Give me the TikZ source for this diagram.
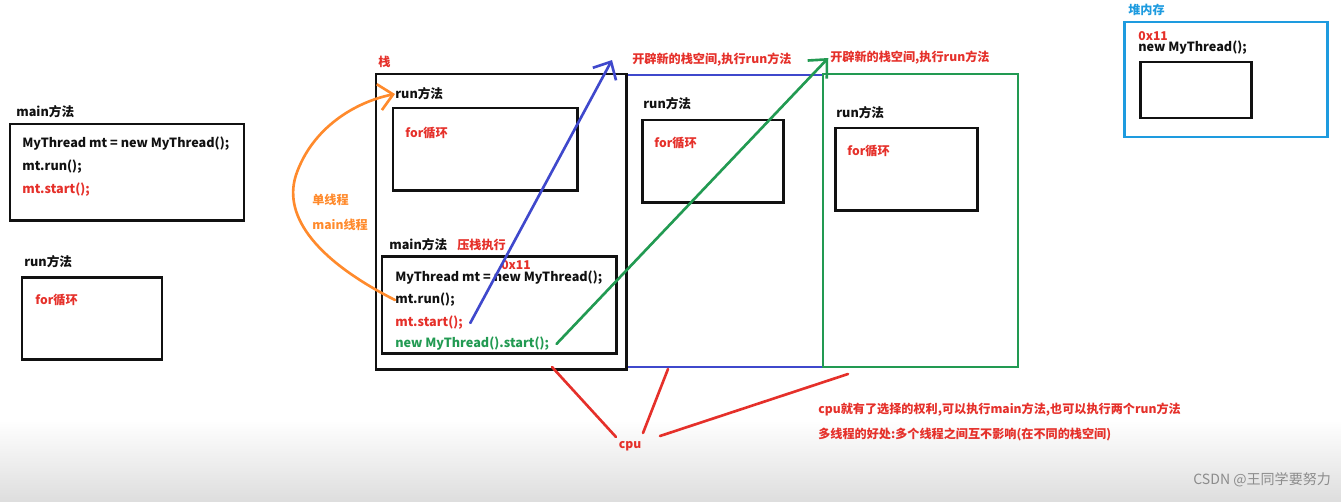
\documentclass[tikz,border=0pt]{standalone}
\usepackage{fontspec}
\setmainfont{Noto Sans CJK SC}
\usetikzlibrary{arrows.meta,fit}
\definecolor{jred}{HTML}{E5302A}
\definecolor{jblue}{HTML}{3F48CC}
\definecolor{jgreen}{HTML}{229A52}
\definecolor{jorange}{HTML}{FF8A2C}
\definecolor{jsky}{HTML}{1E9BDF}
\definecolor{jink}{HTML}{111111}
\begin{document}
\begin{tikzpicture}[
  x=0.02cm, y=-0.02cm,
  blk/.style   = {draw=jink, line width=1.7pt, inner sep=0pt},
  stk/.style   = {line width=1.5pt, inner sep=0pt},
  code/.style  = {font=\bfseries\fontsize{7.2}{8}\selectfont, text=jink,
                  anchor=west, inner sep=0pt},
  note/.style  = {font=\bfseries\fontsize{6.9}{8}\selectfont, text=jred,
                  anchor=west, inner sep=0pt},
  hand/.style  = {line width=1.5pt, line cap=round},
  barb/.style  = {-{Straight Barb[length=8pt,width=15pt]}},
]
\useasboundingbox (0,0) rectangle (1341,501);
\fill[top color=white, bottom color=black!13] (0,420) rectangle (1341,501);
\node[code] (lmainT) at (16,112) {main方法};
\node[blk, fit={(10,124) (244,220)}] (lmain) {};
\node[code] (l1) at (22,144) {MyThread mt = new MyThread();};
\node[code] (l2) at (22,167) {mt.run();};
\node[code, text=jred] (l3) at (22,190) {mt.start();};
\node[code] (lrunT) at (24,262) {run方法};
\node[blk, fit={(22,277) (162,359)}] (lrun) {};
\node[note] (lfor) at (35,300) {for循环};
\node[note] (zhan) at (378,62) {栈};
\node[stk, draw=jblue, fit={(626,75) (823,367)}] (bstk) {};
\node[stk, draw=jgreen, fit={(823,74) (1018,367)}] (gstk) {};
\node[blk, fit={(376,74) (626,369)}] (stack) {};
\node[code] (srunT) at (395,94) {run方法};
\node[blk, fit={(393,108) (577,190)}] (srun) {};
\node[note] (sfor) at (405,133) {for循环};
\node[code] (smainT) at (389,245) {main方法};
\node[note] (push) at (457,245) {压栈执行};
\node[blk, fit={(382,256) (616,353)}] (smain) {};
\node[code] (c1) at (395,278) {MyThread mt = new MyThread();};
\node[code] (c2) at (395,300) {mt.run();};
\node[code, text=jred] (c3) at (395,323) {mt.start();};
\node[code, text=jgreen] (c4) at (395,344) {new MyThread().start();};
\node[note] (addr) at (501,265) {0x11};
\node[code] (brunT) at (643,104) {run方法};
\node[blk, fit={(642,120) (783,202)}] (brun) {};
\node[note] (bfor) at (654,143) {for循环};
\node[code] (grunT) at (836,113) {run方法};
\node[blk, fit={(835,128) (977,210)}] (grun) {};
\node[note] (gfor) at (847,151) {for循环};
\node[note] (open1) at (632,60) {开辟新的栈空间,执行run方法};
\node[note] (open2) at (830,58) {开辟新的栈空间,执行run方法};
\node[note, text=jsky] (heapT) at (1128,10) {堆内存};
\node[stk, draw=jsky, line width=1.7pt, fit={(1124,22) (1327,137)}] (heap) {};
\node[note] (haddr) at (1138,36) {0x11};
\node[code] (hobj) at (1138,48) {new MyThread();};
\node[blk, fit={(1140,62) (1251,118)}] (hbox) {};
\node[note] (why) at (818,410) {cpu就有了选择的权利,可以执行main方法,也可以执行两个run方法};
\node[note] (good) at (818,434) {多线程的好处:多个线程之间互不影响(在不同的栈空间)};
\node[note, anchor=center] (cpu) at (630,446) {cpu};
\node[font=\fontsize{8}{10}\selectfont, text=black!45, anchor=west,
      inner sep=0pt] (mark) at (1193,480) {CSDN @王同学要努力};
\coordinate (btip) at (612,60);
\coordinate (k1) at (552,367);
\coordinate (k2) at (668,369);
\coordinate (k3) at (848,374);
\coordinate (u1) at (616,437);
\coordinate (u2) at (643,433);
\coordinate (u3) at (660,436);
\draw[hand, jorange, barb] (c2.west) .. controls (320,262) and (282,218) .. (296,175)
  .. controls (312,128) and (355,102) .. (srunT.west);
\draw[hand, jblue, barb] ([xshift=4pt]c3.east) -- (btip);
\draw[hand, jgreen, barb] ([xshift=4pt]c4.east) -- ([xshift=-1pt]open2.west);
\draw[hand, jred] (k1) -- (u1);
\draw[hand, jred] (k2) -- (u2);
\draw[hand, jred] (k3) -- (u3);
\node[font=\bfseries\fontsize{6.9}{8}\selectfont, text=jorange, anchor=west,
      inner sep=0pt] (single) at (312,200) {单线程};
\node[font=\bfseries\fontsize{6.9}{8}\selectfont, text=jorange, anchor=west,
      inner sep=0pt] (mainth) at (312,225) {main线程};
\end{tikzpicture}
\end{document}
